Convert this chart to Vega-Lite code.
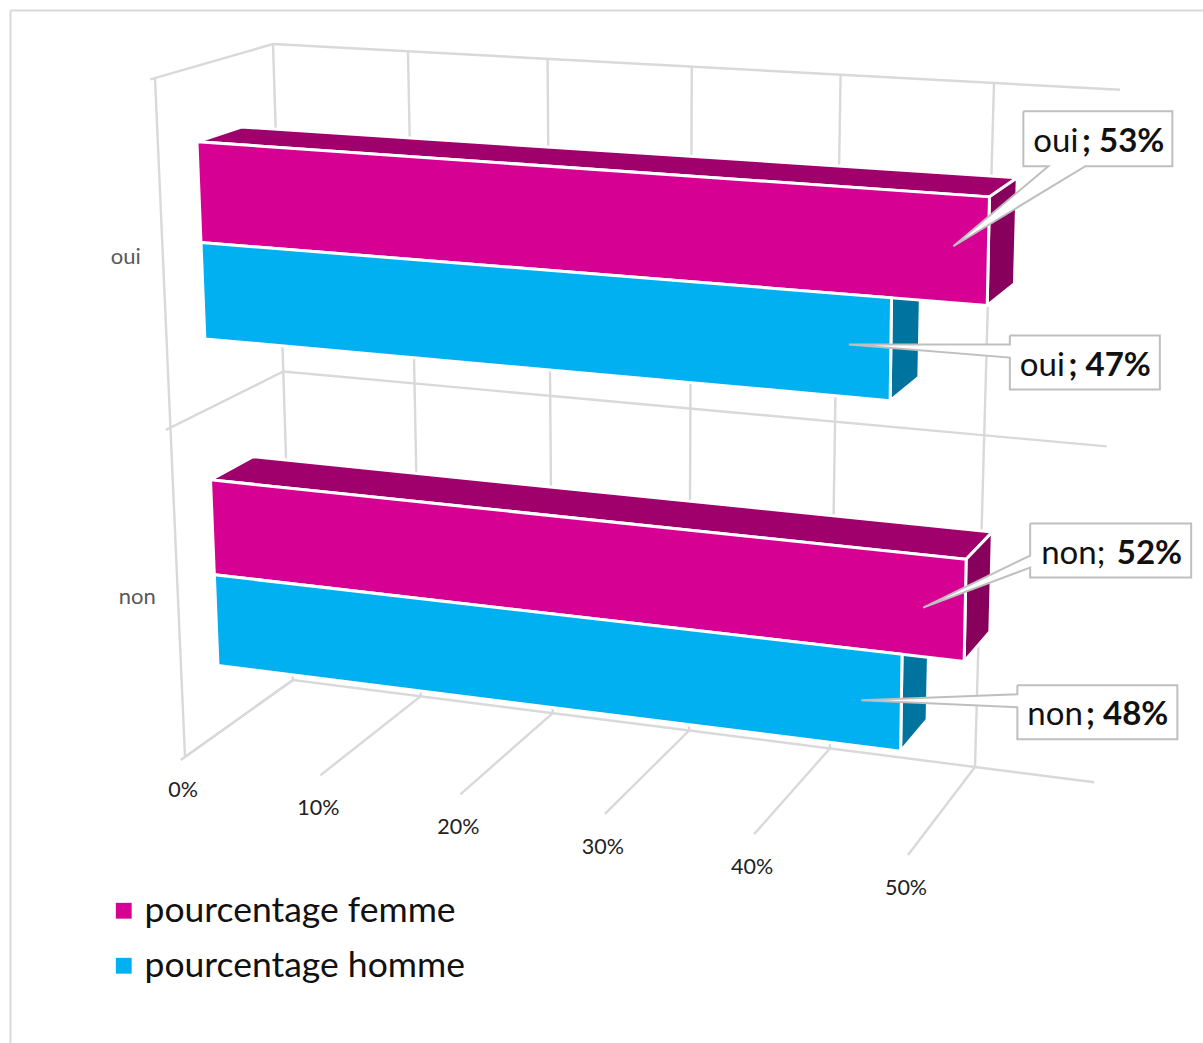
{
"$schema":"https://vega.github.io/schema/vega-lite/v6.json",
"width":1193,"height":1033,
"padding":{"left":10,"top":10,"right":0,"bottom":0},
"autosize":{"type":"none"},
"background":"white",
"view":{"stroke":null},
"config":{"font":"Lato"},
"datasets":{
"bars":[
{"category":"oui","series":"pourcentage femme","value":53},
{"category":"oui","series":"pourcentage homme","value":47},
{"category":"non","series":"pourcentage femme","value":52},
{"category":"non","series":"pourcentage homme","value":48}
],
"ticks":[{"tick":0},{"tick":10},{"tick":20},{"tick":30},{"tick":40},{"tick":50}],
"categories":[{"category":"non","position":0.25},{"category":"oui","position":0.75}],
"levels":[{"level":0},{"level":0.5},{"level":1}]
},
"encoding":{
"x":{"field":"px","type":"quantitative","scale":{"domain":[10,1203],"range":[0,1193]},"axis":{"orient":"top","domain":true,"domainColor":"#d9d9d9","domainWidth":2,"ticks":false,"labels":false,"grid":false,"title":null}},
"y":{"field":"py","type":"quantitative","scale":{"domain":[10,1043],"range":[0,1033]},"axis":{"orient":"left","domain":true,"domainColor":"#d9d9d9","domainWidth":2,"ticks":false,"labels":false,"grid":false,"title":null}}
},
"layer":[
{"data":{"name":"ticks"},
"transform":[
{"calculate":"[[datum.tick,0,0,0],[datum.tick,0,1,1],[datum.tick,1,1,2]]","as":"pts"},
{"flatten":["pts"]},
{"calculate":"datum.pts[0]/50","as":"t"},{"calculate":"datum.t*(0.92+0.08*datum.t)","as":"s"},
{"calculate":"datum.pts[1]*(0.94+0.06*datum.pts[1])","as":"r"},{"calculate":"datum.pts[2]","as":"w"},{"calculate":"datum.pts[3]","as":"i"},
{"calculate":"(185-30*datum.r+datum.w*(108+10*datum.r))*(1-datum.s)+(908+9*datum.r+datum.w*(67+10*datum.r))*datum.s","as":"px"},
{"calculate":"(757-679*datum.r+datum.w*(-77+43*datum.r))*(1-datum.s)+(855-727*datum.r+datum.w*(-88+43*datum.r))*datum.s","as":"py"}
],
"mark":{"type":"line","stroke":"#d9d9d9","strokeWidth":2.4,"interpolate":"linear"},
"encoding":{"detail":{"field":"tick"},"order":{"field":"i","type":"ordinal"}}
},
{"data":{"name":"levels"},
"transform":[
{"calculate":"[[0,datum.level,-0.04,0],[0,datum.level,1,1],[58,datum.level,1,2]]","as":"pts"},
{"flatten":["pts"]},
{"calculate":"datum.pts[0]/50","as":"t"},{"calculate":"datum.t*(0.92+0.08*datum.t)","as":"s"},
{"calculate":"datum.pts[1]*(0.94+0.06*datum.pts[1])","as":"r"},{"calculate":"datum.pts[2]","as":"w"},{"calculate":"datum.pts[3]","as":"i"},
{"calculate":"(185-30*datum.r+datum.w*(108+10*datum.r))*(1-datum.s)+(908+9*datum.r+datum.w*(67+10*datum.r))*datum.s","as":"px"},
{"calculate":"(757-679*datum.r+datum.w*(-77+43*datum.r))*(1-datum.s)+(855-727*datum.r+datum.w*(-88+43*datum.r))*datum.s","as":"py"}
],
"mark":{"type":"line","stroke":"#d9d9d9","strokeWidth":2.4},
"encoding":{"detail":{"field":"level"},"order":{"field":"i","type":"ordinal"}}
},
{"data":{"name":"ticks"},
"transform":[
{"filter":"datum.tick===0"},
{"calculate":"[[0,0,0,0],[0,1,0,1]]","as":"pts"},
{"flatten":["pts"]},
{"calculate":"datum.pts[0]/50","as":"t"},{"calculate":"datum.t*(0.92+0.08*datum.t)","as":"s"},
{"calculate":"datum.pts[1]*(0.94+0.06*datum.pts[1])","as":"r"},{"calculate":"datum.pts[2]","as":"w"},{"calculate":"datum.pts[3]","as":"i"},
{"calculate":"(185-30*datum.r+datum.w*(108+10*datum.r))*(1-datum.s)+(908+9*datum.r+datum.w*(67+10*datum.r))*datum.s","as":"px"},
{"calculate":"(757-679*datum.r+datum.w*(-77+43*datum.r))*(1-datum.s)+(855-727*datum.r+datum.w*(-88+43*datum.r))*datum.s","as":"py"}
],
"mark":{"type":"line","stroke":"#d9d9d9","strokeWidth":2.4},
"encoding":{"order":{"field":"i","type":"ordinal"}}
},
{"data":{"name":"bars"},
"transform":[
{"calculate":"(datum.category==='oui'?0.5:0)+(datum.series==='pourcentage femme'?0.247:0.105)","as":"zb"},
{"calculate":"datum.zb+(datum.series==='pourcentage femme'?0.146:0.142)","as":"zt"},
{"calculate":"[[0,datum.zt,0.33,0],[0,datum.zt,0.71,1],[datum.value,datum.zt,0.71,2],[datum.value,datum.zt,0.33,3],[0,datum.zt,0.33,4]]","as":"pts"},
{"flatten":["pts"]},
{"calculate":"datum.pts[0]/50","as":"t"},{"calculate":"datum.t*(0.92+0.08*datum.t)","as":"s"},
{"calculate":"datum.pts[1]*(0.94+0.06*datum.pts[1])","as":"r"},{"calculate":"datum.pts[2]","as":"w"},{"calculate":"datum.pts[3]","as":"i"},
{"calculate":"(185-30*datum.r+datum.w*(108+10*datum.r))*(1-datum.s)+(908+9*datum.r+datum.w*(67+10*datum.r))*datum.s","as":"px"},
{"calculate":"(757-679*datum.r+datum.w*(-77+43*datum.r))*(1-datum.s)+(855-727*datum.r+datum.w*(-88+43*datum.r))*datum.s","as":"py"},
{"calculate":"datum.category+datum.series","as":"bar"}
],
"mark":{"type":"line","filled":true,"stroke":"white","strokeWidth":3,"strokeJoin":"miter"},
"encoding":{"detail":{"field":"bar"},"order":{"field":"i","type":"ordinal"},"color":{"condition":{"test":"datum.series==='pourcentage femme'","value":"#a0006c"},"value":"#007ca8"}}
},
{"data":{"name":"bars"},
"transform":[
{"calculate":"(datum.category==='oui'?0.5:0)+(datum.series==='pourcentage femme'?0.247:0.105)","as":"zb"},
{"calculate":"datum.zb+(datum.series==='pourcentage femme'?0.146:0.142)","as":"zt"},
{"calculate":"[[datum.value,datum.zb,0.33,0],[datum.value,datum.zt,0.33,1],[datum.value,datum.zt,0.71,2],[datum.value,datum.zb,0.71,3],[datum.value,datum.zb,0.33,4]]","as":"pts"},
{"flatten":["pts"]},
{"calculate":"datum.pts[0]/50","as":"t"},{"calculate":"datum.t*(0.92+0.08*datum.t)","as":"s"},
{"calculate":"datum.pts[1]*(0.94+0.06*datum.pts[1])","as":"r"},{"calculate":"datum.pts[2]","as":"w"},{"calculate":"datum.pts[3]","as":"i"},
{"calculate":"(185-30*datum.r+datum.w*(108+10*datum.r))*(1-datum.s)+(908+9*datum.r+datum.w*(67+10*datum.r))*datum.s","as":"px"},
{"calculate":"(757-679*datum.r+datum.w*(-77+43*datum.r))*(1-datum.s)+(855-727*datum.r+datum.w*(-88+43*datum.r))*datum.s","as":"py"},
{"calculate":"datum.category+datum.series","as":"bar"}
],
"mark":{"type":"line","filled":true,"stroke":"white","strokeWidth":3,"strokeJoin":"miter"},
"encoding":{"detail":{"field":"bar"},"order":{"field":"i","type":"ordinal"},"color":{"condition":{"test":"datum.series==='pourcentage femme'","value":"#87005b"},"value":"#00749e"}}
},
{"data":{"name":"bars"},
"transform":[
{"calculate":"(datum.category==='oui'?0.5:0)+(datum.series==='pourcentage femme'?0.247:0.105)","as":"zb"},
{"calculate":"datum.zb+(datum.series==='pourcentage femme'?0.146:0.142)","as":"zt"},
{"calculate":"[[0,datum.zb,0.33,0],[0,datum.zt,0.33,1],[datum.value,datum.zt,0.33,2],[datum.value,datum.zb,0.33,3],[0,datum.zb,0.33,4]]","as":"pts"},
{"flatten":["pts"]},
{"calculate":"datum.pts[0]/50","as":"t"},{"calculate":"datum.t*(0.92+0.08*datum.t)","as":"s"},
{"calculate":"datum.pts[1]*(0.94+0.06*datum.pts[1])","as":"r"},{"calculate":"datum.pts[2]","as":"w"},{"calculate":"datum.pts[3]","as":"i"},
{"calculate":"(185-30*datum.r+datum.w*(108+10*datum.r))*(1-datum.s)+(908+9*datum.r+datum.w*(67+10*datum.r))*datum.s","as":"px"},
{"calculate":"(757-679*datum.r+datum.w*(-77+43*datum.r))*(1-datum.s)+(855-727*datum.r+datum.w*(-88+43*datum.r))*datum.s","as":"py"},
{"calculate":"datum.category+datum.series","as":"bar"}
],
"mark":{"type":"line","filled":true,"stroke":"white","strokeWidth":3,"strokeJoin":"miter"},
"encoding":{"detail":{"field":"bar"},"order":{"field":"i","type":"ordinal"},
"color":{"field":"series","type":"nominal","title":null,"scale":{"domain":["pourcentage femme","pourcentage homme"],"range":["#d60093","#00b0f0"]},
"legend":{"orient":"none","legendX":96,"legendY":883,"symbolType":"square","symbolSize":250,"symbolStrokeWidth":0,"labelFontSize":35.5,"labelFont":"Lato","labelColor":"#111111","rowPadding":18,"labelOffset":3,"labelLimit":500,"title":null}}}
},
{"data":{"name":"bars"},
"transform":[
{"calculate":"(datum.category==='oui'?0.5:0)+(datum.series==='pourcentage femme'?0.25:0.107)+0.0715","as":"zm"},
{"calculate":"datum.value/50","as":"t"},{"calculate":"datum.t*(0.92+0.08*datum.t)","as":"s"},
{"calculate":"datum.zm*(0.94+0.06*datum.zm)","as":"r"},{"calculate":"0.33","as":"w"},
{"calculate":"(185-30*datum.r+datum.w*(108+10*datum.r))*(1-datum.s)+(908+9*datum.r+datum.w*(67+10*datum.r))*datum.s","as":"ax"},
{"calculate":"(757-679*datum.r+datum.w*(-77+43*datum.r))*(1-datum.s)+(855-727*datum.r+datum.w*(-88+43*datum.r))*datum.s","as":"ay"},
{"calculate":"{'oui|pourcentage femme':[[35,-139],[184,-139],[184,-84],[97,-84],[-35,-4],[60,-84],[35,-84],[35,-139]],'oui|pourcentage homme':[[119,-12],[269,-12],[269,42],[119,42],[119,10],[-42,-3],[119,-3],[119,-12]],'non|pourcentage femme':[[65,-86],[226,-86],[226,-32],[65,-32],[65,-42],[-42,-2],[65,-54],[65,-86]],'non|pourcentage homme':[[116,-16],[276,-16],[276,38],[116,38],[116,6],[-40,-1],[116,-7],[116,-16]]}[datum.category+'|'+datum.series]","as":"outline"},
{"flatten":["outline"],"as":["pt"]},
{"window":[{"op":"row_number","as":"i"}],"groupby":["category","series"]},
{"calculate":"datum.ax+datum.pt[0]","as":"px"},
{"calculate":"datum.ay+datum.pt[1]","as":"py"},
{"calculate":"datum.category+datum.series","as":"bar"}
],
"mark":{"type":"line","filled":true,"color":"white","fill":"white","stroke":"#bfbfbf","strokeWidth":2,"strokeJoin":"miter"},
"encoding":{"detail":{"field":"bar"},"order":{"field":"i","type":"quantitative"}}
},
{"data":{"name":"bars"},
"transform":[
{"calculate":"(datum.category==='oui'?0.5:0)+(datum.series==='pourcentage femme'?0.25:0.107)+0.0715","as":"zm"},
{"calculate":"datum.value/50","as":"t"},{"calculate":"datum.t*(0.92+0.08*datum.t)","as":"s"},
{"calculate":"datum.zm*(0.94+0.06*datum.zm)","as":"r"},{"calculate":"0.33","as":"w"},
{"calculate":"(185-30*datum.r+datum.w*(108+10*datum.r))*(1-datum.s)+(908+9*datum.r+datum.w*(67+10*datum.r))*datum.s","as":"ax"},
{"calculate":"(757-679*datum.r+datum.w*(-77+43*datum.r))*(1-datum.s)+(855-727*datum.r+datum.w*(-88+43*datum.r))*datum.s","as":"ay"},
{"calculate":"{'oui|pourcentage femme':[45,-98],'oui|pourcentage homme':[129,28],'non|pourcentage femme':[76,-46],'non|pourcentage homme':[126,24]}[datum.category+'|'+datum.series]","as":"off"},
{"calculate":"datum.ax+datum.off[0]","as":"px"},
{"calculate":"datum.ay+datum.off[1]","as":"py"},
{"calculate":"datum.category==='non'&&datum.series==='pourcentage femme'?'non;':datum.category","as":"plain"}
],
"mark":{"type":"text","align":"left","baseline":"alphabetic","fontSize":33,"font":"Lato","color":"#111111"},
"encoding":{"text":{"field":"plain"}}
},
{"data":{"name":"bars"},
"transform":[
{"calculate":"(datum.category==='oui'?0.5:0)+(datum.series==='pourcentage femme'?0.25:0.107)+0.0715","as":"zm"},
{"calculate":"datum.value/50","as":"t"},{"calculate":"datum.t*(0.92+0.08*datum.t)","as":"s"},
{"calculate":"datum.zm*(0.94+0.06*datum.zm)","as":"r"},{"calculate":"0.33","as":"w"},
{"calculate":"(185-30*datum.r+datum.w*(108+10*datum.r))*(1-datum.s)+(908+9*datum.r+datum.w*(67+10*datum.r))*datum.s","as":"ax"},
{"calculate":"(757-679*datum.r+datum.w*(-77+43*datum.r))*(1-datum.s)+(855-727*datum.r+datum.w*(-88+43*datum.r))*datum.s","as":"ay"},
{"calculate":"{'oui|pourcentage femme':[176,-98],'oui|pourcentage homme':[260,28],'non|pourcentage femme':[217,-46],'non|pourcentage homme':[267,24]}[datum.category+'|'+datum.series]","as":"off"},
{"calculate":"datum.ax+datum.off[0]","as":"px"},
{"calculate":"datum.ay+datum.off[1]","as":"py"},
{"calculate":"(datum.category==='non'&&datum.series==='pourcentage femme'?'':'; ')+datum.value+'%'","as":"strong"}
],
"mark":{"type":"text","align":"right","baseline":"alphabetic","fontSize":33,"font":"Lato","fontWeight":"bold","color":"#111111"},
"encoding":{"text":{"field":"strong"}}
},
{"data":{"name":"ticks"},
"transform":[
{"calculate":"datum.tick/50","as":"t"},{"calculate":"datum.t*(0.92+0.08*datum.t)","as":"s"},
{"calculate":"908*datum.s+185*(1-datum.s)","as":"px"},
{"calculate":"855*datum.s+757*(1-datum.s)+33","as":"py"},
{"calculate":"datum.tick+'%'","as":"label"}
],
"mark":{"type":"text","align":"center","baseline":"middle","dx":-2,"dy":1,"fontSize":21.5,"font":"Lato","color":"#222222"},
"encoding":{"text":{"field":"label"}}
},
{"data":{"name":"categories"},
"transform":[
{"calculate":"datum.position*(0.94+0.06*datum.position)","as":"r"},
{"calculate":"185-30*datum.r","as":"px"},
{"calculate":"757-679*datum.r","as":"py"}
],
"mark":{"type":"text","align":"right","baseline":"middle","dx":-22,"dy":2,"fontSize":22,"font":"Lato","color":"#595959"},
"encoding":{"text":{"field":"category"}}
}
]
}
